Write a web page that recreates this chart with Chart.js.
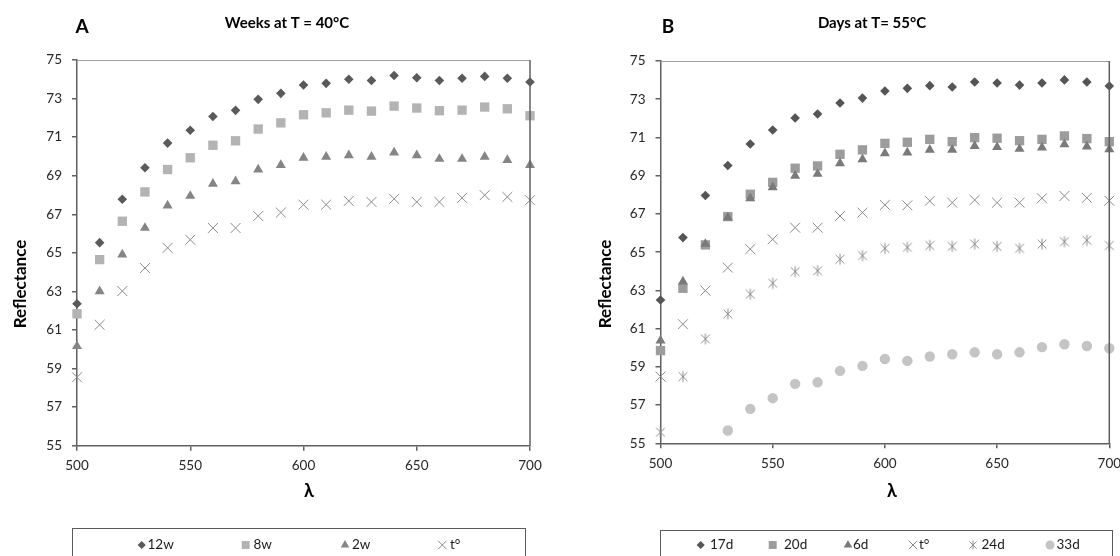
<!DOCTYPE html>
<html>
<head>
<meta charset="utf-8">
<script src="https://cdn.jsdelivr.net/npm/chart.js@4.4.1/dist/chart.umd.min.js"></script>
<style>
body { margin: 0; background: #fff; }
.panel { position: absolute; top: 0; width: 560px; height: 556px; }
#pA { left: 0; }
#pB { left: 560px; }
</style>
</head>
<body>
<div class="panel" id="pA"><canvas id="chartA"></canvas></div>
<div class="panel" id="pB"><canvas id="chartB"></canvas></div>
<script>
// wavelengths (nm)
var lambda = [500, 510, 520, 530, 540, 550, 560, 570, 580, 590, 600, 610, 620, 630, 640, 650, 660, 670, 680, 690, 700];
var xTicks = [500, 550, 600, 650, 700];
var yTicks = [55, 57, 59, 61, 63, 65, 67, 69, 71, 73, 75];

// panel A - weeks at 40 C
var labelsA = ['12w', '8w', '2w', 't°'];
var w12 = [62.36, 65.53, 67.78, 69.41, 70.69, 71.36, 72.07, 72.39, 72.96, 73.27, 73.70, 73.79, 74.00, 73.94, 74.20, 74.08, 73.94, 74.05, 74.15, 74.05, 73.86];
var w8 = [61.84, 64.65, 66.64, 68.16, 69.32, 69.93, 70.58, 70.81, 71.42, 71.74, 72.16, 72.26, 72.40, 72.35, 72.61, 72.51, 72.37, 72.40, 72.56, 72.47, 72.11];
var w2 = [60.16, 63.00, 64.91, 66.29, 67.45, 67.95, 68.58, 68.71, 69.32, 69.55, 69.93, 69.98, 70.06, 69.98, 70.20, 70.06, 69.87, 69.87, 69.98, 69.81, 69.55];
var tA = [58.55, 61.27, 63.02, 64.21, 65.26, 65.68, 66.29, 66.29, 66.91, 67.09, 67.50, 67.50, 67.69, 67.64, 67.80, 67.64, 67.64, 67.85, 67.99, 67.90, 67.73];

// panel B - days at 55 C
var labelsB = ['17d', '20d', '6d', 't°', '24d', '33d'];
var d17 = [62.50, 65.76, 67.96, 69.53, 70.66, 71.39, 72.02, 72.23, 72.80, 73.06, 73.43, 73.57, 73.71, 73.64, 73.90, 73.85, 73.74, 73.85, 74.01, 73.90, 73.69];
var d20 = [59.85, 63.11, 65.38, 66.86, 68.03, 68.65, 69.39, 69.51, 70.12, 70.35, 70.69, 70.75, 70.90, 70.78, 70.99, 70.96, 70.83, 70.90, 71.08, 70.94, 70.78];
var d6 = [60.37, 63.46, 65.43, 66.81, 67.82, 68.39, 68.99, 69.09, 69.65, 69.86, 70.17, 70.21, 70.35, 70.35, 70.55, 70.49, 70.40, 70.47, 70.64, 70.52, 70.38];
var tB = [58.49, 61.23, 62.99, 64.19, 65.16, 65.67, 66.28, 66.28, 66.89, 67.07, 67.47, 67.45, 67.68, 67.59, 67.73, 67.59, 67.59, 67.82, 67.94, 67.84, 67.69];
var d24 = [55.58, 58.49, 60.46, 61.77, 62.80, 63.37, 63.98, 64.03, 64.63, 64.82, 65.20, 65.25, 65.35, 65.30, 65.42, 65.30, 65.20, 65.42, 65.55, 65.62, 65.35];
var d33 = [null, null, null, 55.67, 56.80, 57.36, 58.11, 58.19, 58.79, 59.05, 59.41, 59.31, 59.54, 59.66, 59.76, 59.66, 59.76, 60.03, 60.18, 60.09, 59.97];

Chart.defaults.font.family = 'Lato, "DejaVu Sans", sans-serif';
Chart.defaults.color = '#262626';

// six armed asterisk marker (x plus vertical bar)
function makeAsterisk(size, color) {
    var c = document.createElement('canvas');
    c.width = size; c.height = size;
    var g = c.getContext('2d');
    var m = size / 2, r = size / 2 - 1.5;
    g.strokeStyle = color;
    g.lineWidth = 1;
    g.beginPath();
    g.moveTo(m - r * 0.8, m - r * 0.8); g.lineTo(m + r * 0.8, m + r * 0.8);
    g.moveTo(m + r * 0.8, m - r * 0.8); g.lineTo(m - r * 0.8, m + r * 0.8);
    g.moveTo(m, m - r); g.lineTo(m, m + r);
    g.stroke();
    return c;
}
var astBig = makeAsterisk(14, '#8c8c8c');
var astSmall = makeAsterisk(12, '#8c8c8c');

function toPoints(ys) {
    var pts = [];
    for (let i = 0; i < lambda.length; i++) {
        pts.push({x: lambda[i], y: ys[i]});
    }
    return pts;
}

function series(label, ys, style, color, radius, order) {
    var hollow = (style === 'crossRot');
    return {
        label: label,
        data: toPoints(ys),
        showLine: false,
        pointStyle: style,
        pointRadius: radius,
        pointHoverRadius: radius,
        backgroundColor: color,
        borderColor: color,
        pointBorderWidth: hollow ? 1 : 0,
        clip: false,
        order: order
    };
}

// titles, panel letter, axis names and the boxed legend
function decorPlugin(cfg) {
    return {
        id: 'decor',
        afterDraw: function(chart) {
            var ctx = chart.ctx, a = chart.chartArea;
            ctx.save();
            // frame top / right
            ctx.strokeStyle = '#a0a0a0';
            ctx.lineWidth = 1;
            ctx.beginPath();
            ctx.moveTo(a.left, a.top + 0.5); ctx.lineTo(a.right, a.top + 0.5);
            ctx.stroke();
            ctx.strokeStyle = '#606060';
            ctx.lineWidth = 1.5;
            ctx.beginPath();
            ctx.moveTo(a.right, a.top); ctx.lineTo(a.right, a.bottom);
            ctx.stroke();

            ctx.fillStyle = '#000';
            ctx.textAlign = 'center';
            ctx.textBaseline = 'middle';
            ctx.font = 'bold 19px Lato, "DejaVu Sans", sans-serif';
            ctx.fillText(cfg.letter, cfg.letterX, 27);
            ctx.font = 'bold 15px Lato, "DejaVu Sans", sans-serif';
            ctx.fillText(cfg.title, cfg.titleX, 23);
            ctx.font = 'bold 18px Lato, "DejaVu Sans", sans-serif';
            ctx.fillText('λ', cfg.lambdaX, 491);
            ctx.save();
            ctx.translate(cfg.yTitleX, 284);
            ctx.rotate(-Math.PI / 2);
            ctx.font = 'bold 17px Lato, "DejaVu Sans", sans-serif';
            ctx.fillText('Reflectance', 0, 0);
            ctx.restore();

            // legend box
            ctx.strokeStyle = '#5a5a5a';
            ctx.lineWidth = 1;
            ctx.strokeRect(cfg.boxL + 0.5, cfg.boxT + 0.5, cfg.boxR - cfg.boxL, 60);
            ctx.font = '13.5px Lato, "DejaVu Sans", sans-serif';
            ctx.textAlign = 'left';
            var ds = chart.data.datasets;
            for (let i = 0; i < ds.length; i++) {
                var d = ds[i];
                ctx.fillStyle = d.backgroundColor;
                ctx.strokeStyle = d.borderColor;
                ctx.lineWidth = d.pointBorderWidth;
                var st = d.pointStyle;
                if (st instanceof HTMLCanvasElement) {
                    st = astSmall;
                    ctx.drawImage(st, cfg.markX[i] - st.width / 2, 545 - st.height / 2);
                } else {
                    Chart.helpers.drawPoint(ctx, {
                        pointStyle: st,
                        radius: d.pointRadius * 0.85,
                        rotation: 0,
                        borderWidth: d.pointBorderWidth
                    }, cfg.markX[i], 545);
                }
                ctx.fillStyle = '#1a1a1a';
                ctx.fillText(d.label, cfg.textX[i], 545);
            }
            ctx.restore();
        }
    };
}

function makeOptions(left, right, top, bottom) {
    return {
        responsive: true,
        maintainAspectRatio: false,
        animation: false,
        layout: {
            padding: {left: 0, right: 560 - right, top: top, bottom: 556 - bottom - 40}
        },
        plugins: {
            legend: {display: false},
            title: {display: false},
            tooltip: {enabled: false}
        },
        scales: {
            x: {
                type: 'linear',
                min: 500,
                max: 700,
                afterBuildTicks: function(s) { s.ticks = xTicks.map(function(v) { return {value: v}; }); },
                afterFit: function(s) { s.height = 40; s.paddingLeft = 0; s.paddingRight = 0; },
                ticks: {font: {size: 13.5}, color: '#262626', padding: 7, maxRotation: 0},
                grid: {drawOnChartArea: false, tickLength: 5, color: '#606060', lineWidth: 1.5},
                border: {color: '#606060', width: 1.5}
            },
            y: {
                min: 55,
                max: 75,
                afterBuildTicks: function(s) { s.ticks = yTicks.map(function(v) { return {value: v}; }); },
                afterFit: function(s) { s.width = left; },
                ticks: {font: {size: 13.5}, color: '#262626', padding: 10},
                grid: {drawOnChartArea: false, tickLength: 5, color: '#606060', lineWidth: 1.5},
                border: {color: '#606060', width: 1.5}
            }
        }
    };
}

var chartA = new Chart(document.getElementById('chartA').getContext('2d'), {
    type: 'scatter',
    data: {
        datasets: [
            series(labelsA[0], w12, 'rectRot', '#5a5a5a', 4.8, 4),
            series(labelsA[1], w8, 'rect', '#b3b3b3', 6.6, 3),
            series(labelsA[2], w2, 'triangle', '#858585', 5.8, 2),
            series(labelsA[3], tA, 'crossRot', '#8a8a8a', 7, 1)
        ]
    },
    options: makeOptions(77, 530, 60, 445.7),
    plugins: [decorPlugin({
        letter: 'A', letterX: 82, title: 'Weeks at T = 40°C', titleX: 287,
        lambdaX: 309, yTitleX: 21,
        boxL: 72, boxR: 525, boxT: 528,
        markX: [141.7, 245.7, 345, 442.3],
        textX: [147.5, 253.5, 352, 450]
    })]
});

var chartB = new Chart(document.getElementById('chartB').getContext('2d'), {
    type: 'scatter',
    data: {
        datasets: [
            series(labelsB[0], d17, 'rectRot', '#555555', 4.8, 6),
            series(labelsB[1], d20, 'rect', '#9c9c9c', 6.6, 5),
            series(labelsB[2], d6, 'triangle', '#7a7a7a', 5.8, 4),
            series(labelsB[3], tB, 'crossRot', '#8a8a8a', 7, 3),
            series(labelsB[4], d24, astBig, '#8c8c8c', 7, 2),
            series(labelsB[5], d33, 'circle', '#c4c4c4', 5.2, 1)
        ]
    },
    options: makeOptions(100.5, 549.3, 61, 443.3),
    plugins: [decorPlugin({
        letter: 'B', letterX: 108, title: 'Days at T= 55°C', titleX: 312,
        lambdaX: 332, yTitleX: 46,
        boxL: 100, boxR: 552, boxT: 530,
        markX: [140.7, 212.7, 288, 353, 413, 490],
        textX: [150, 224, 293, 359, 421.5, 496.5]
    })]
});
</script>
</body>
</html>
